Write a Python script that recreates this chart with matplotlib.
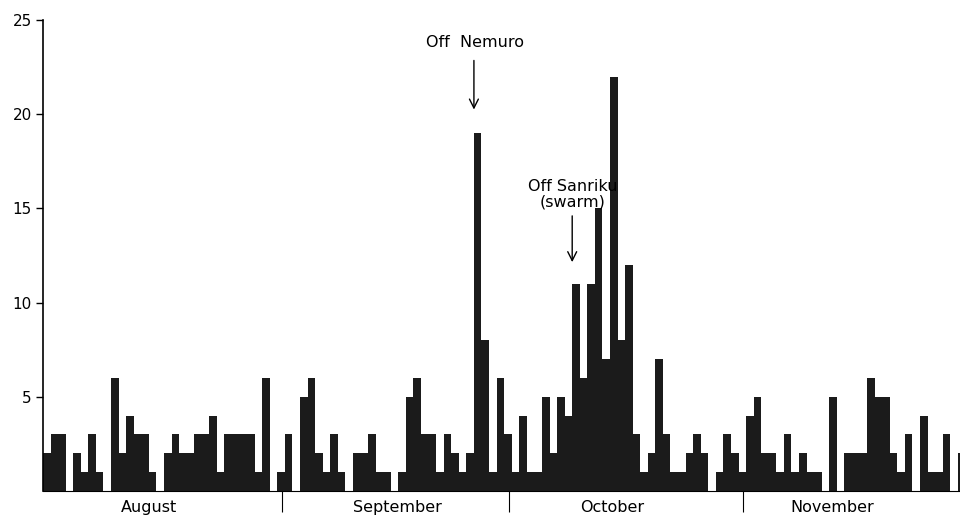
import numpy as np
import matplotlib.pyplot as plt

# daily counts, Aug 1 - Nov 30
aug = [2, 3, 3, 0, 2, 1, 3, 1, 0, 6, 2, 4, 3, 3, 1, 0, 2, 3, 2, 2,
       3, 3, 4, 1, 3, 3, 3, 3, 1, 6, 0]
sep = [1, 3, 0, 5, 6, 2, 1, 3, 1, 0, 2, 2, 3, 1, 1, 0, 1, 5, 6, 3,
       3, 1, 3, 2, 1, 2, 19, 8, 1, 6]
octo = [3, 1, 4, 1, 1, 5, 2, 5, 4, 11, 6, 11, 15, 7, 22, 8, 12, 3, 1, 2,
        7, 3, 1, 1, 2, 3, 2, 0, 1, 3, 2]
nov = [1, 4, 5, 2, 2, 1, 3, 1, 2, 1, 1, 0, 5, 0, 2, 2, 2, 6, 5, 5,
       2, 1, 3, 0, 4, 1, 1, 3, 0, 2]
months = ["August", "September", "October", "November"]
month_label_x = [14.0, 46.9, 75.3, 104.4]

counts = aug + sep + octo + nov
days = np.arange(len(counts))
bounds = np.cumsum([len(aug), len(sep), len(octo)]) + 0.6

fig = plt.figure(figsize=(9.6, 5.2), dpi=100)
ax = fig.add_axes([43 / 960, 29 / 520, 917 / 960, 471 / 520])

ax.bar(days, counts, width=1.0, align="edge", color="#1b1b1b", edgecolor="none")

ax.set_xlim(0, 917 / 7.56)
ax.set_ylim(0, 25)
ax.spines["top"].set_visible(False)
ax.spines["right"].set_visible(False)
ax.spines["left"].set_linewidth(1.2)
ax.spines["bottom"].set_linewidth(0.8)

ax.set_yticks([5, 10, 15, 20, 25])
ax.tick_params(axis="y", direction="out", length=5, width=1, labelsize=11, pad=3)
ax.set_xticks(bounds)
ax.set_xticklabels([])
ax.tick_params(axis="x", direction="out", length=15, width=0.8)

for name, x in zip(months, month_label_x):
    ax.text(x, -0.9, name, ha="center", va="center", fontsize=11.5, clip_on=False)

arrow = dict(arrowstyle="->", lw=1.0, color="black", mutation_scale=16)
ax.annotate("", xy=(57.0, 20.1), xytext=(57.0, 23.0), arrowprops=arrow)
ax.text(57.1, 23.8, "Off  Nemuro", ha="center", va="center", fontsize=11.5)
ax.annotate("", xy=(70.0, 12.0), xytext=(70.0, 14.75), arrowprops=arrow)
ax.text(70.1, 15.75, "Off Sanriku\n(swarm)", ha="center", va="center",
        fontsize=11.5, linespacing=1.0)

fig.savefig("out.png", dpi=100)
